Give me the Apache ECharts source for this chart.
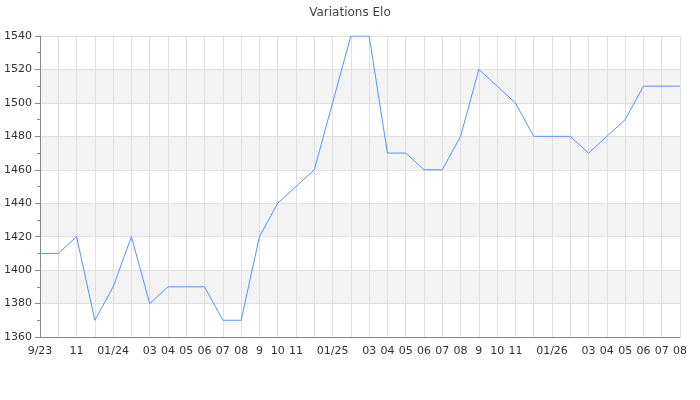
<!DOCTYPE html>
<html>
<head>
<meta charset="utf-8">
<script src="https://cdn.jsdelivr.net/npm/echarts@6/dist/echarts.min.js"></script>
<style>html,body{margin:0;padding:0;background:#fff}#c{width:700px;height:400px}</style>
</head>
<body>
<div id="c"></div>
<script>
const months = ["2023-09","2023-10","2023-11","2023-12","2024-01","2024-02","2024-03","2024-04","2024-05","2024-06","2024-07","2024-08","2024-09","2024-10","2024-11","2024-12","2025-01","2025-02","2025-03","2025-04","2025-05","2025-06","2025-07","2025-08","2025-09","2025-10","2025-11","2025-12","2026-01","2026-02","2026-03","2026-04","2026-05","2026-06","2026-07","2026-08"];
const tickLabels = ["9/23","","11","","01/24","","03","04","05","06","07","08","9","10","11","","01/25","","03","04","05","06","07","08","9","10","11","","01/26","","03","04","05","06","07","08"];
const elo = [1410,1410,1420,1370,1390,1420,1380,1390,1390,1390,1370,1370,1420,1440,1450,1460,1500,1540,1540,1470,1470,1460,1460,1480,1520,1510,1500,1480,1480,1480,1470,1480,1490,1510,1510,1510];

const chart = echarts.init(document.getElementById('c'), null, {renderer:'canvas'});
chart.setOption({
  animation:false,
  title:{text:'Variations Elo',left:'center',top:2,textStyle:{fontFamily:'DejaVu Sans',fontSize:12,fontWeight:'normal',color:'#444'}},
  grid:{left:40,right:20,top:36,bottom:63},
  xAxis:{
    type:'category',data:months,boundaryGap:false,
    axisLine:{lineStyle:{color:'#888'}},
    axisTick:{show:false},
    axisLabel:{interval:0,margin:9,fontFamily:'DejaVu Sans',fontSize:11,color:'#333',formatter:(v,i)=>tickLabels[i]},
    splitLine:{show:true,lineStyle:{color:'#e0e0e0'}}
  },
  yAxis:{
    type:'value',min:1360,max:1540,interval:20,
    axisLine:{show:true,lineStyle:{color:'#888'}},
    axisTick:{show:true,length:5,lineStyle:{color:'#888'}},
    minorTick:{show:true,splitNumber:2,length:3,lineStyle:{color:'#888'}},
    axisLabel:{margin:8,fontFamily:'DejaVu Sans',fontSize:11,color:'#333',formatter:v=>String(v)},
    splitLine:{show:true,lineStyle:{color:'#e0e0e0'}},
    splitArea:{show:true,areaStyle:{color:['#ffffff','#f3f3f3']}}
  },
  series:[{type:'line',data:elo,showSymbol:false,lineStyle:{color:'#5b8ff9',width:1}}]
});
</script>
</body>
</html>
